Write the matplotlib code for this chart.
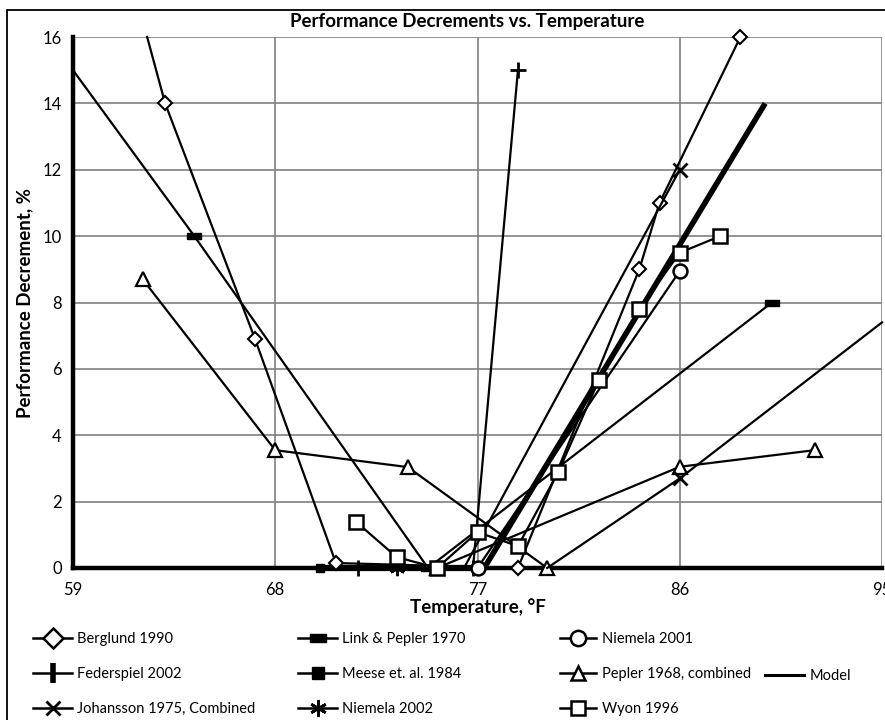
import numpy as np
import matplotlib.pyplot as plt
from matplotlib.lines import Line2D
from matplotlib.patches import Rectangle

plt.rcParams['font.family'] = ['Lato', 'DejaVu Sans']

# values: temperature (°F) vs performance decrement (%)
berglund_x = [62.3, 63.1, 67.1, 70.7, 78.8, 84.2, 85.1, 88.7]
berglund_y = [16.0, 14.0, 6.9, 0.15, 0.0, 9.0, 11.0, 16.0]
link_x = [59.0, 64.4, 74.8, 90.1]
link_y = [15.0, 10.0, 0.0, 8.0]
niemela01_x = [77.0, 86.0]
niemela01_y = [0.0, 8.95]
federspiel_x = [71.7, 76.8, 78.8]
federspiel_y = [0.0, 0.0, 15.0]
meese_x = [70.0, 77.0]
meese_y = [0.0, 0.0]
pepler_x = [62.1, 68.0, 73.9, 80.1]
pepler_y = [8.7, 3.55, 3.04, 0.0]
pepler2_x = [75.2, 86.0, 92.0]
pepler2_y = [0.0, 3.05, 3.55]
johansson_x = [76.4, 86.0]
johansson_y = [0.0, 12.0]
johansson2_x = [80.1, 86.0, 95.0]
johansson2_y = [0.0, 2.7, 7.4]
niemela02_x = [73.4]
niemela02_y = [0.0]
wyon_x = [71.6, 73.4, 75.2, 77.0, 78.8, 80.6, 82.4, 84.2, 86.0, 87.8]
wyon_y = [1.39, 0.33, 0.0, 1.08, 0.66, 2.9, 5.66, 7.8, 9.5, 10.0]
model_x = [77.3, 89.8]
model_y = [0.0, 14.0]

x_ticks = [59, 68, 77, 86, 95]
y_ticks = [0, 2, 4, 6, 8, 10, 12, 14, 16]

fig = plt.figure(figsize=(8.85, 7.2), dpi=100)
ax = fig.add_axes([73 / 885, 1 - 568 / 720, 809 / 885, 531 / 720])

rect_marker = [(-1, -0.5), (1, -0.5), (1, 0.5), (-1, 0.5), (-1, -0.5)]
k = 'black'
common = dict(color=k, lw=1.6, clip_on=False, zorder=4)

ax.plot(model_x, model_y, color=k, lw=4, solid_capstyle='butt', clip_on=False, zorder=4)
ax.plot(meese_x, meese_y, color=k, lw=4.5, marker='s', ms=6, mfc=k, clip_on=False, zorder=4)
ax.plot(link_x, link_y, marker=rect_marker, ms=10, mfc=k, markevery=[1, 2, 3], **common)
ax.plot(berglund_x, berglund_y, marker='D', ms=7.5, mfc='white', mew=1.5, markevery=list(range(1, 8)), **common)
ax.plot(federspiel_x, federspiel_y, marker='+', ms=11, mew=2, **common)
ax.plot(pepler_x, pepler_y, marker='^', ms=10, mfc='white', mew=1.6, **common)
ax.plot(pepler2_x, pepler2_y, marker='^', ms=10, mfc='white', mew=1.6, **common)
ax.plot(johansson_x, johansson_y, marker='x', ms=10, mew=2, markevery=[1], **common)
ax.plot(johansson2_x, johansson2_y, marker='x', ms=10, mew=2, markevery=[1], **common)
ax.plot(niemela02_x, niemela02_y, marker=(6, 2, 0), ms=11, mew=2, **common)
ax.plot(niemela01_x, niemela01_y, marker='o', ms=10, mfc='white', mew=1.8, **common)
ax.plot(wyon_x, wyon_y, marker='s', ms=10, mfc='white', mew=1.8, **common)

ax.set_xlim(59, 95)
ax.set_ylim(0, 16)
ax.set_xticks(x_ticks)
ax.set_yticks(y_ticks)
ax.tick_params(length=0, labelsize=12)
ax.tick_params(axis='y', pad=8)
ax.tick_params(axis='x', pad=10)
ax.grid(True, color='#808080', lw=1.2)
ax.set_axisbelow(True)
for s in ['top', 'right']:
    ax.spines[s].set_visible(False)
for s in ['left', 'bottom']:
    ax.spines[s].set_linewidth(3.2)
    ax.spines[s].set_zorder(3)

ax.set_xlabel('Temperature, °F', fontsize=13.5, fontweight='bold', va='center')
ax.xaxis.set_label_coords(0.5, -(607 - 568) / 531)
ax.set_ylabel('Performance Decrement, %', fontsize=13.5, fontweight='bold', va='center')
ax.yaxis.set_label_coords(-(73 - 25) / 809, 0.5)

fig.text(467 / 885, 1 - 21 / 720, 'Performance Decrements vs. Temperature',
         ha='center', va='center', fontsize=13.5, fontweight='bold')

# outer frame
fig.add_artist(Rectangle((7 / 885, -0.05), 1.0, 1 - 10 / 720 + 0.05, transform=fig.transFigure,
                         fill=False, ec=k, lw=1.3))

def h(lw=1.8, **kw):
    return Line2D([0], [0], color=k, lw=lw, **kw)

columns = [
    ([h(marker='D', ms=10, mfc='white', mew=1.8), h(marker='|', ms=14, mew=4),
      h(marker='x', ms=10, mew=2)],
     ['Berglund 1990', 'Federspiel 2002', 'Johansson 1975, Combined'], 33, 2.7),
    ([h(marker=rect_marker, ms=11, mfc=k), h(marker='s', ms=9, mfc=k),
      h(marker=(6, 2, 0), ms=12, mew=2)],
     ['Link & Pepler 1970', 'Meese et. al. 1984', 'Niemela 2002'], 298, 2.7),
    ([h(marker='o', ms=11, mfc='white', mew=1.8), h(marker='^', ms=10, mfc='white', mew=1.8),
      h(marker='s', ms=10, mfc='white', mew=1.8)],
     ['Niemela 2001', 'Pepler 1968, combined', 'Wyon 1996'], 560, 2.5),
]
for handles, labels, xpix, hl in columns:
    fig.legend(handles, labels, loc='upper left', bbox_to_anchor=(xpix / 885, 1 - 632 / 720),
               frameon=False, fontsize=10.5, handlelength=hl, handletextpad=0.35,
               labelspacing=1.45, borderpad=0, borderaxespad=0)
fig.legend([h(lw=2.2)], ['Model'], loc='center left', bbox_to_anchor=(765 / 885, 1 - 676 / 720),
           frameon=False, fontsize=10.5, handlelength=2.7, handletextpad=0.35,
           borderpad=0, borderaxespad=0)

fig.savefig('out.png', dpi=100)
